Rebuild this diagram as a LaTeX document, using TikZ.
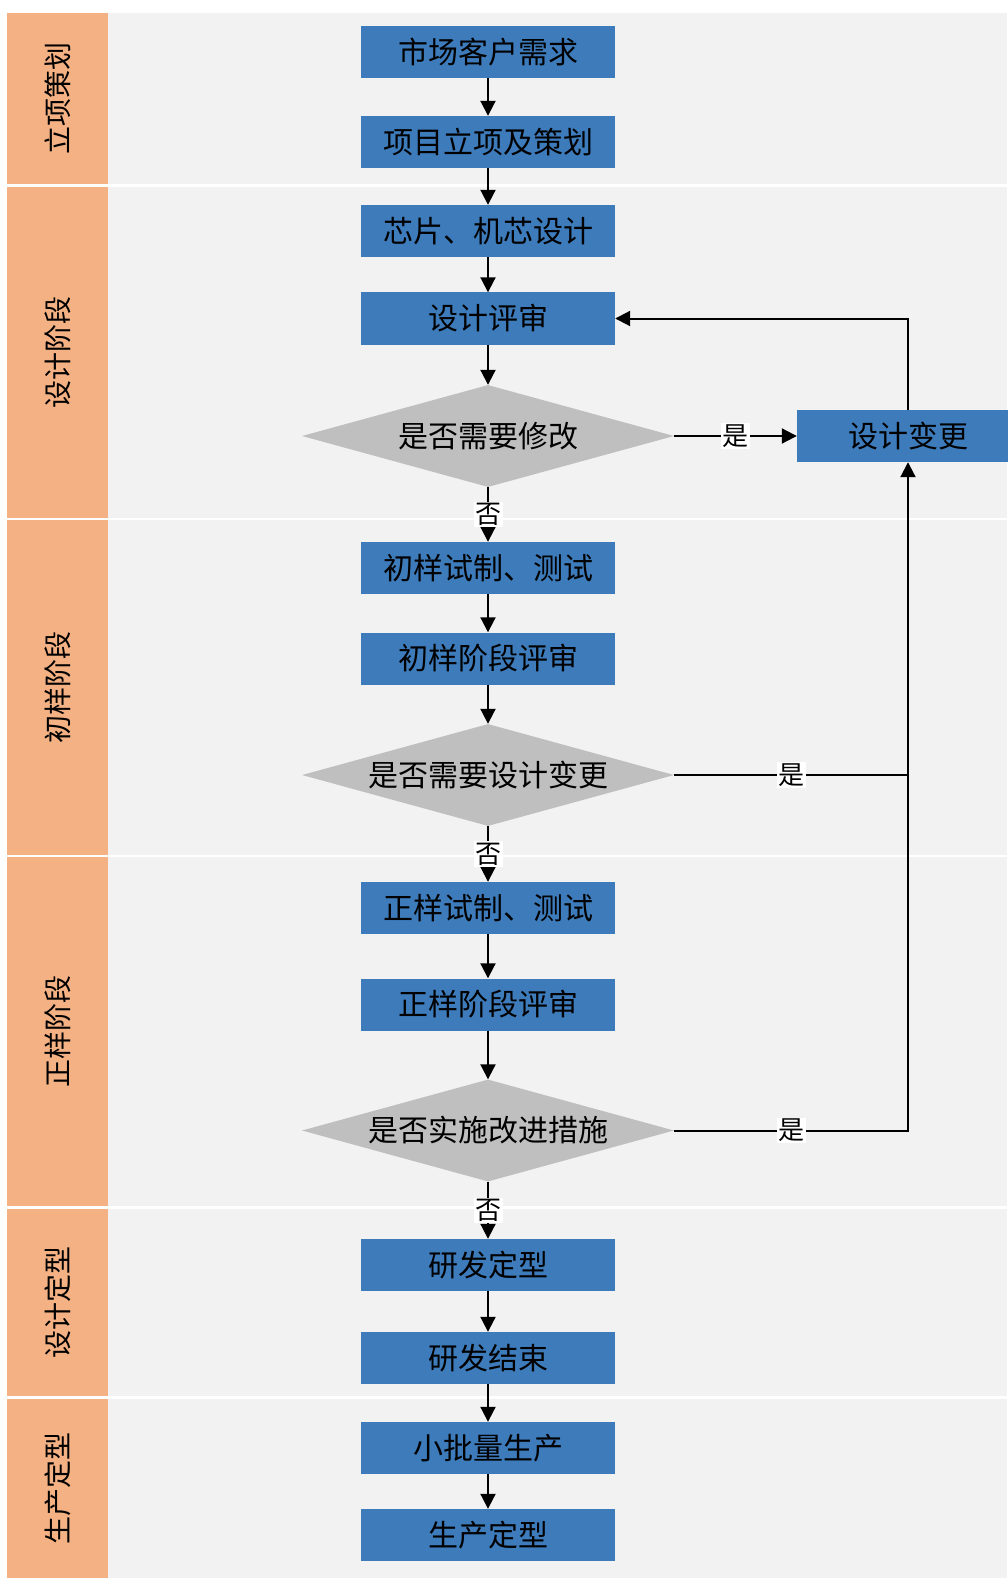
\documentclass[tikz,border=0pt]{standalone}
\usepackage{fontspec}
\setmainfont{Noto Sans CJK SC}
\usepackage{tikz}
\usetikzlibrary{shapes.geometric,arrows.meta}
\definecolor{lanecolor}{HTML}{F4B183}
\definecolor{washedcolor}{HTML}{F2F2F2}
\definecolor{stepcolor}{HTML}{3D7BBB}
\definecolor{decisioncolor}{HTML}{BFBFBF}
\tikzstyle{lanetitle} = [
    rotate=90,
    text=black,
    inner sep=0pt,
    font=\fontsize{28}{32}\selectfont
    ]
\tikzstyle{stepbox} = [
    rectangle,
    fill=stepcolor,
    text=black,
    minimum width=254pt,
    minimum height=52pt,
    inner sep=0pt,
    font=\fontsize{30}{34}\selectfont
    ]
\tikzstyle{decision} = [
    diamond,
    fill=decisioncolor,
    text=black,
    aspect=3.6,
    minimum width=372pt,
    minimum height=102pt,
    inner sep=0pt,
    font=\fontsize{30}{34}\selectfont
    ]
\tikzstyle{flow} = [
    line width=2pt,
    -{Triangle[length=15pt,width=15pt]}
    ]
\tikzstyle{answer} = [
    fill=white,
    text=black,
    inner sep=1.5pt,
    font=\fontsize{26}{28}\selectfont
    ]

\begin{document}
\begin{tikzpicture}[x=1pt,y=-1pt]
\useasboundingbox (0,0) rectangle (1007,1578);
% swim lanes
\foreach \top/\bot/\name [count=\i] in {13/184/立项策划, 187/518/设计阶段,
    520/855/初样阶段, 857/1206/正样阶段, 1209/1396/设计定型, 1399/1578/生产定型}{
  \fill[washedcolor] (108,\top) rectangle (1007,\bot);
  \fill[lanecolor] (7,\top) rectangle (108,\bot);
  \node[lanetitle] (lane\i) at (57.5,{(\top+\bot)/2}) {\name};
}

% steps
\node[stepbox] (market) at (488,52) {市场客户需求};
\node[stepbox] (project) at (488,142) {项目立项及策划};
\node[stepbox] (chip) at (488,231) {芯片、机芯设计};
\node[stepbox] (review) at (488,318.5) {设计评审};
\node[decision] (modify) at (488,436) {是否需要修改};
\node[stepbox, minimum width=222pt] (change) at (908,436) {设计变更};
\node[stepbox] (proto) at (488,568) {初样试制、测试};
\node[stepbox] (protoreview) at (488,658.5) {初样阶段评审};
\node[decision] (redesign) at (488,775) {是否需要设计变更};
\node[stepbox] (sample) at (488,908) {正样试制、测试};
\node[stepbox] (samplereview) at (488,1004.5) {正样阶段评审};
\node[decision] (improve) at (488,1130.5) {是否实施改进措施};
\node[stepbox] (finalize) at (488,1265) {研发定型};
\node[stepbox] (rdend) at (488,1358) {研发结束};
\node[stepbox] (batch) at (488,1448) {小批量生产};
\node[stepbox] (production) at (488,1535) {生产定型};

% connectors
\draw[flow] (market) -- (project);
\draw[flow] (project) -- (chip);
\draw[flow] (chip) -- (review);
\draw[flow] (review) -- (modify);
\draw[flow] (modify) -- node[answer] {否} (proto);
\draw[flow] (modify) -- node[answer] {是} (change);
\draw[flow] (change.north) |- (review.east);
\draw[flow] (proto) -- (protoreview);
\draw[flow] (protoreview) -- (redesign);
\draw[flow] (redesign) -- node[answer] {否} (sample);
\draw[line width=2pt] (redesign.east) -- node[answer] {是} (redesign.east -| change.south);
\draw[flow] (sample) -- (samplereview);
\draw[flow] (samplereview) -- (improve);
\draw[flow] (improve.east) -- node[answer] {是} (improve.east -| change.south) -- (change.south);
\draw[flow] (improve) -- node[answer] {否} (finalize);
\draw[flow] (finalize) -- (rdend);
\draw[flow] (rdend) -- (batch);
\draw[flow] (batch) -- (production);
\end{tikzpicture}
\end{document}
